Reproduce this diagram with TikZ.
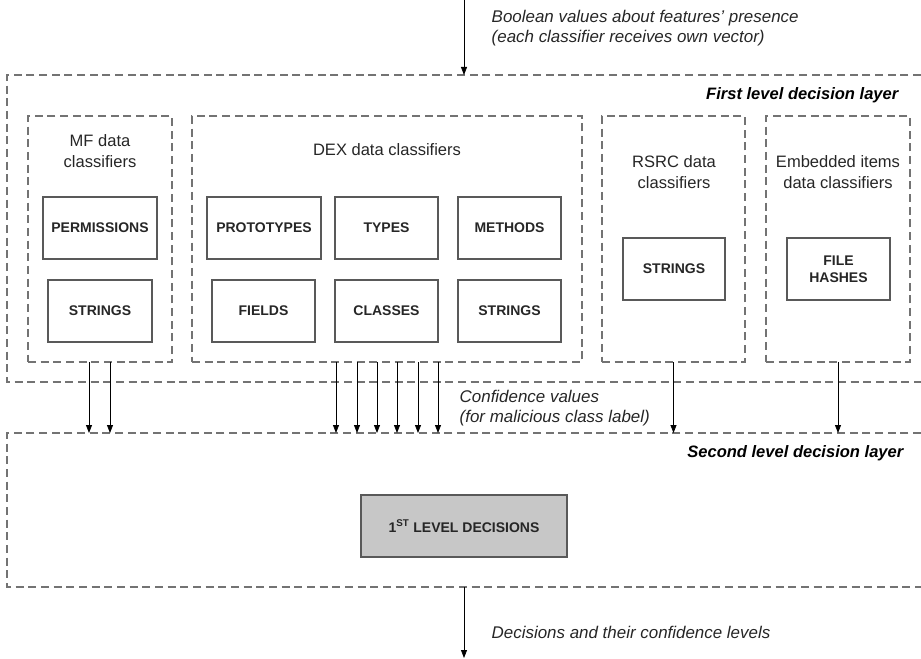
\documentclass[tikz,border=0pt]{standalone}
\usepackage{fontspec}
\setmainfont{Liberation Sans}
\usetikzlibrary{arrows.meta}
\usepackage{xcolor}
\colorlet{dashgray}{black!55}
\colorlet{boxline}{black!65}
\colorlet{decisionfill}{black!22}
\colorlet{textdark}{black!85}

\tikzset{
  layerline/.style={draw=dashgray, line width=1pt, dash pattern=on 6pt off 3.5pt},
  groupbox/.style={layerline, inner sep=0pt, outer sep=0pt},
  featbox/.style={draw=boxline, line width=0.9pt, text=textdark, align=center, inner sep=0pt,
    font=\fontsize{10.5}{12.5}\selectfont\bfseries, minimum height=46.5pt},
  grouptitle/.style={text=textdark, align=center, font=\fontsize{12.4}{15.75}\selectfont},
  note/.style={text=textdark, align=left, anchor=west, font=\fontsize{12.7}{15.5}\selectfont\itshape},
  layername/.style={text=black, anchor=east, font=\fontsize{12.4}{15}\selectfont\bfseries\itshape},
  flow/.style={-{Triangle[length=6pt,width=4.5pt]}, line width=0.6pt, black},
}

\begin{document}
\begin{tikzpicture}[x=0.75pt,y=-0.75pt]
  \useasboundingbox (0,0) rectangle (921,659);

  \coordinate (input) at (464,0);
  \coordinate (output) at (464,658);

  % First level decision layer
  \coordinate (layer1_n1) at (7,75);
  \coordinate (layer1_n2) at (7,382);
  \coordinate (layer1_n3) at (921,382);
  \coordinate (layer1_n4) at (921,75);
  \draw[layerline] (layer1_n4) -- (layer1_n1) -- (layer1_n2) -- (layer1_n3);
  \node[layername] (layer1_name) at (903,95) {First level decision layer};

  % Second level decision layer
  \coordinate (layer2_n1) at (7,433);
  \coordinate (layer2_n2) at (7,587);
  \coordinate (layer2_n3) at (921,587);
  \coordinate (layer2_n4) at (921,433);
  \draw[layerline] (layer2_n4) -- (layer2_n1) -- (layer2_n2) -- (layer2_n3);
  \node[layername] (layer2_name) at (908,453) {Second level decision layer};

  \node[note] (input_note) at (487,28) {Boolean values about features' presence\\(each classifier receives own vector)};
  \draw[flow] (input) -- (input |- layer1_n1);

  % Classifier groups
  \node[groupbox, minimum width=108pt, minimum height=184.5pt] (mf) at (100,239) {};
  \node[groupbox, minimum width=292.5pt, minimum height=184.5pt] (dex) at (387,239) {};
  \node[groupbox, minimum width=107.25pt, minimum height=184.5pt] (rsrc) at (673.5,239) {};
  \node[groupbox, minimum width=108pt, minimum height=184.5pt] (emb) at (838,239) {};

  \node[grouptitle] (mf_title) at (100,151) {MF data\\classifiers};
  \node[grouptitle] (dex_title) at (387,150) {DEX data classifiers};
  \node[grouptitle] (rsrc_title) at (674,172) {RSRC data\\classifiers};
  \node[grouptitle] (emb_title) at (838,172) {Embedded items\\data classifiers};

  \node[featbox, minimum width=85.5pt] (mf_perm) at (100,228) {PERMISSIONS};
  \node[featbox, minimum width=78pt] (mf_str) at (100,311) {STRINGS};

  \node[featbox, minimum width=85.5pt] (dex_proto) at (264,228) {PROTOTYPES};
  \node[featbox, minimum width=77.25pt] (dex_types) at (386.5,228) {TYPES};
  \node[featbox, minimum width=77.25pt] (dex_meth) at (509.5,228) {METHODS};
  \node[featbox, minimum width=77.25pt] (dex_fields) at (263.5,311) {FIELDS};
  \node[featbox, minimum width=77.25pt] (dex_cls) at (386.5,311) {CLASSES};
  \node[featbox, minimum width=77.25pt] (dex_str) at (509.5,311) {STRINGS};

  \node[featbox, minimum width=76.5pt] (rsrc_str) at (674,269) {STRINGS};
  \node[featbox, minimum width=77.25pt] (emb_hash) at (838.5,269) {FILE\\HASHES};

  % Confidence values
  \foreach \x in {89,110}
    \draw[flow] (\x,0 |- mf.south) -- (\x,0 |- layer2_n1);
  \foreach \x in {336,357,377,397,418,438}
    \draw[flow] (\x,0 |- dex.south) -- (\x,0 |- layer2_n1);
  \draw[flow] (rsrc.south) -- (rsrc.south |- layer2_n1);
  \draw[flow] (emb.south) -- (emb.south |- layer2_n1);
  \node[note] (conf_note) at (455,408) {Confidence values\\(for malicious class label)};

  \node[featbox, fill=decisionfill, minimum width=154.5pt] (decisions) at (464,526) {1\textsuperscript{ST} LEVEL DECISIONS};

  \draw[flow] (input |- layer2_n2) -- (output);
  \node[note] (output_note) at (487,632) {Decisions and their confidence levels};
\end{tikzpicture}
\end{document}
